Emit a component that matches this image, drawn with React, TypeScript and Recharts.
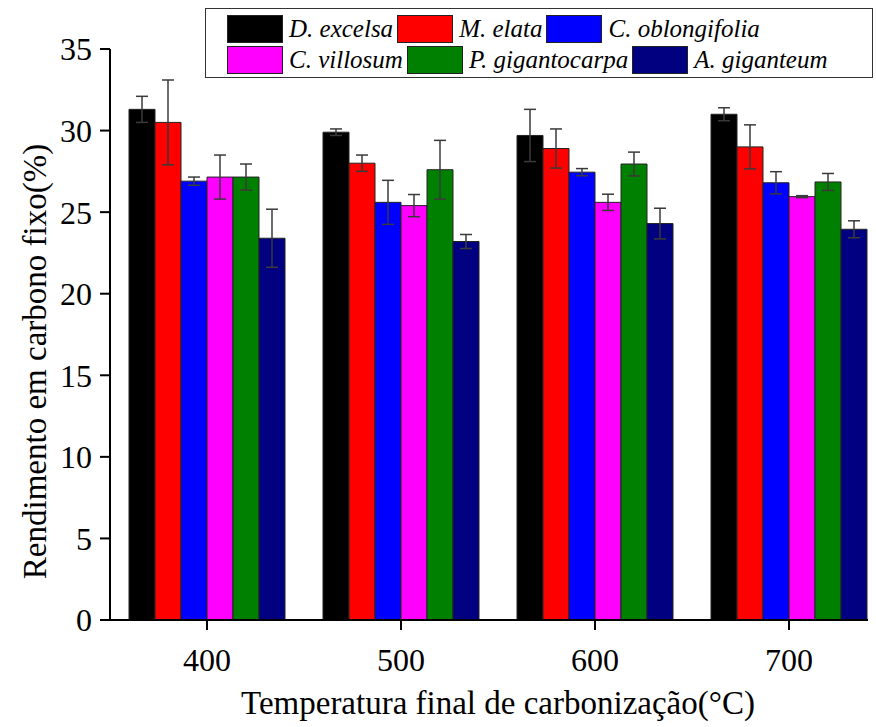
import { Bar, BarChart, ErrorBar, Legend, XAxis, YAxis } from "recharts";

const temperatures = ["400", "500", "600", "700"];
const speciesNames = ["D. excelsa", "M. elata", "C. oblongifolia", "C. villosum", "P. gigantocarpa", "A. giganteum"];
const speciesColors = ["#000000", "#ff0000", "#0000ff", "#ff00ff", "#008000", "#000080"];

const dExcelsa = [31.3, 29.9, 29.7, 31.0];
const dExcelsaErr = [0.8, 0.2, 1.6, 0.4];
const mElata = [30.5, 28.0, 28.9, 29.0];
const mElataErr = [2.6, 0.5, 1.2, 1.35];
const cOblongifolia = [26.9, 25.6, 27.45, 26.8];
const cOblongifoliaErr = [0.25, 1.35, 0.22, 0.68];
const cVillosum = [27.15, 25.4, 25.6, 25.95];
const cVillosumErr = [1.35, 0.68, 0.5, 0.06];
const pGigantocarpa = [27.15, 27.6, 27.95, 26.85];
const pGigantocarpaErr = [0.8, 1.8, 0.73, 0.52];
const aGiganteum = [23.4, 23.2, 24.3, 23.95];
const aGiganteumErr = [1.78, 0.43, 0.94, 0.52];

const yTicks = [0, 5, 10, 15, 20, 25, 30, 35];

const seriesValues = [dExcelsa, mElata, cOblongifolia, cVillosum, pGigantocarpa, aGiganteum];
const seriesErrors = [dExcelsaErr, mElataErr, cOblongifoliaErr, cVillosumErr, pGigantocarpaErr, aGiganteumErr];

const data = temperatures.map((t, i) => {
  const row: Record<string, string | number> = { temp: t };
  seriesValues.forEach((vals, s) => {
    row[`s${s}`] = vals[i];
    row[`e${s}`] = seriesErrors[s][i];
  });
  return row;
});

const font = "'Liberation Serif', serif";

function YTitle({ viewBox }: any) {
  const cx = viewBox.x + 35;
  const cy = viewBox.y + viewBox.height / 2 + 27;
  return (
    <text x={cx} y={cy} transform={`rotate(-90 ${cx} ${cy})`} textAnchor="middle" dominantBaseline="central"
      fontFamily={font} fontSize={33} fill="#000">
      Rendimento em carbono fixo(%)
    </text>
  );
}

function XTitle({ viewBox }: any) {
  const cx = viewBox.x + (viewBox.width + 18) / 2;
  return (
    <text x={cx} y={714} textAnchor="middle" fontFamily={font} fontSize={33} fill="#000">
      Temperatura final de carbonização(°C)
    </text>
  );
}

function LegendBox() {
  const rows = [[0, 1, 2], [3, 4, 5]];
  return (
    <div
      style={{
        width: 668,
        height: 70,
        boxSizing: "border-box",
        border: "1.5px solid #333",
        background: "#fff",
        padding: "4px 0 0 21px",
        fontFamily: font,
        fontStyle: "italic",
        fontSize: 25,
        color: "#000",
      }}
    >
      {rows.map((row, r) => (
        <div key={r} style={{ display: "flex", alignItems: "center", height: 31 }}>
          {row.map((s) => (
            <div key={s} style={{ display: "flex", alignItems: "center", marginRight: 4 }}>
              <span
                style={{
                  display: "inline-block",
                  width: 56,
                  height: 28,
                  boxSizing: "border-box",
                  background: speciesColors[s],
                  border: "1.5px solid #222",
                  marginRight: 6,
                }}
              />
              <span style={{ lineHeight: "28px", whiteSpace: "nowrap" }}>{speciesNames[s]}</span>
            </div>
          ))}
        </div>
      ))}
    </div>
  );
}

export default function App() {
  return (
    <div style={{ position: "fixed", left: 0, top: 0, width: 876, height: 727, overflow: "hidden", background: "#fff" }}>
      <BarChart
        width={876}
        height={727}
        data={data}
        margin={{ top: 49, right: 8, bottom: 0, left: 0 }}
        barCategoryGap={19}
        barGap={0}
      >
        <XAxis
          dataKey="temp"
          height={107}
          padding={{ left: 0, right: -18 }}
          axisLine={{ stroke: "#000", strokeWidth: 2 }}
          tickLine={{ stroke: "#000", strokeWidth: 2 }}
          tickSize={10}
          tickMargin={18}
          tick={{ fill: "#000", fontSize: 32, fontFamily: font }}
          label={<XTitle />}
        />
        <YAxis
          width={110}
          domain={[0, 35]}
          ticks={yTicks}
          interval={0}
          axisLine={{ stroke: "#000", strokeWidth: 2 }}
          tickLine={{ stroke: "#000", strokeWidth: 2 }}
          tickSize={10}
          tickMargin={8}
          tick={{ fill: "#000", fontSize: 32, fontFamily: font }}
          label={<YTitle />}
        />
        <Legend
          layout="horizontal"
          verticalAlign="middle"
          align="center"
          wrapperStyle={{ left: 205, top: 8, width: 668 }}
          content={<LegendBox />}
        />
        {speciesNames.map((name, s) => (
          <Bar
            key={name}
            dataKey={`s${s}`}
            name={name}
            fill={speciesColors[s]}
            stroke="#222"
            strokeWidth={1}
            isAnimationActive={false}
          >
            <ErrorBar dataKey={`e${s}`} width={6} stroke="#3a3a3a" strokeWidth={1.5} />
          </Bar>
        ))}
      </BarChart>
    </div>
  );
}
